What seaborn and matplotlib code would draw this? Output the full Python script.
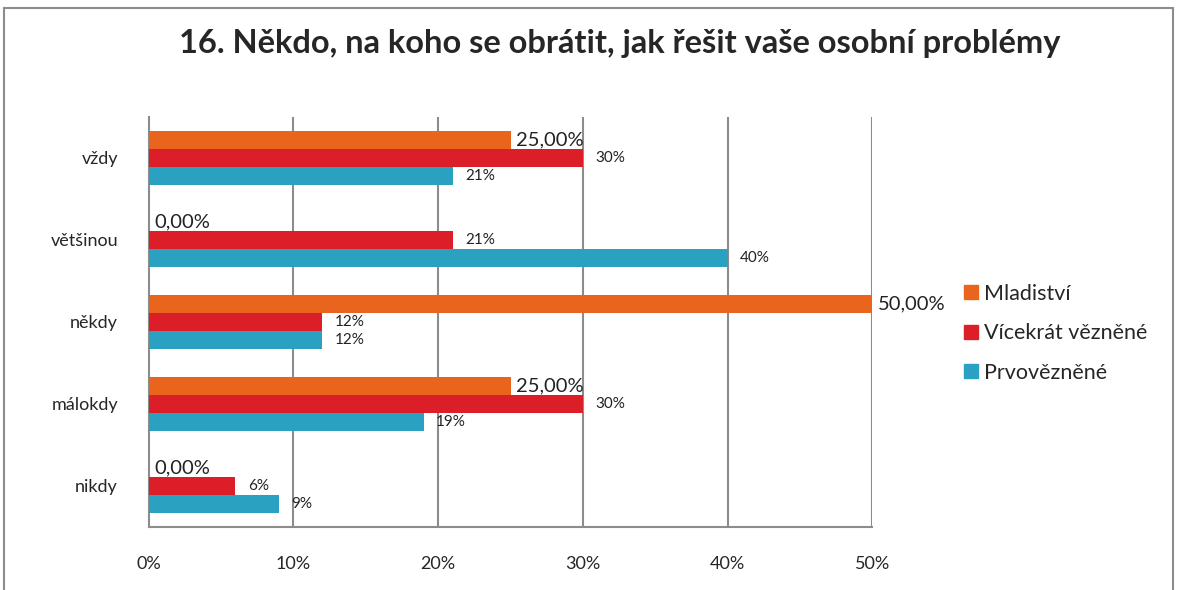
import matplotlib
matplotlib.use("Agg")
import matplotlib.pyplot as plt
import seaborn as sns
import pandas as pd
from matplotlib.patches import Rectangle
from matplotlib.lines import Line2D
from matplotlib.ticker import FixedLocator

categories = ["vždy", "většinou", "někdy", "málokdy", "nikdy"]
series = ["Mladiství", "Vícekrát vězněné", "Prvovězněné"]
mladistvi = [25, 0, 50, 25, 0]
vicekrat = [30, 21, 12, 30, 6]
prvo = [21, 40, 12, 19, 9]
colors = ["#E9651E", "#DC1E28", "#2AA1C0"]
xticks = [0, 10, 20, 30, 40, 50]

sns.set_style("white")
plt.rcParams["font.family"] = ["Lato", "DejaVu Sans"]

values = [mladistvi, vicekrat, prvo]
rows = []
for s, vals in zip(series, values):
    for c, v in zip(categories, vals):
        rows.append({"kat": c, "serie": s, "hodnota": v})
df = pd.DataFrame(rows)

fig = plt.figure(figsize=(11.79, 5.90), dpi=100)
ax = fig.add_axes([0.126, 0.107, 0.614, 0.695])

sns.barplot(data=df, y="kat", x="hodnota", hue="serie", order=categories,
            hue_order=series, palette=colors, orient="h", width=0.66,
            linewidth=0, saturation=1, ax=ax, legend=False, zorder=3)

ax.set_xlim(0, 50)
ax.set_ylim(len(categories) - 0.5, -0.5)
ax.set_xticks(xticks)
ax.set_xticklabels([f"{t}%" for t in xticks], fontsize=13)
ax.set_xlabel("")
ax.set_ylabel("")
ax.tick_params(axis="y", labelsize=13, length=0, pad=22)
ax.tick_params(axis="x", length=5, color="#8c8c8c", direction="out", pad=16)
ax.yaxis.set_minor_locator(FixedLocator([i - 0.5 for i in range(len(categories) + 1)]))
ax.tick_params(axis="y", which="minor", length=5, color="#8c8c8c", direction="out")

for s in ["top", "right"]:
    ax.spines[s].set_visible(False)
for s in ["left", "bottom"]:
    ax.spines[s].set_color("#8c8c8c")
    ax.spines[s].set_linewidth(1.5)

ax.grid(False)
for t in xticks[1:]:
    ax.axvline(t, color="#8c8c8c", lw=1.5, zorder=1)

# data labels
for i, cont in enumerate(ax.containers):
    vals = values[i]
    if i == 0:
        labs = [f"{v:.2f}%".replace(".", ",") for v in vals]
        ax.bar_label(cont, labels=labs, padding=4, fontsize=14.5, color="#222222")
    else:
        labs = [f"{v}%" for v in vals]
        ax.bar_label(cont, labels=labs, padding=9, fontsize=11, color="#222222")

# legend
handles = [Line2D([0], [0], marker="s", color="none", markerfacecolor=c,
                  markeredgecolor=c, markersize=10) for c in colors]
fig.legend(handles, series, loc="center left", bbox_to_anchor=(0.8, 0.435),
           frameon=False, fontsize=15.5, handletextpad=0.2, labelspacing=0.9,
           handlelength=0.8)

fig.suptitle("16. Někdo, na koho se obrátit, jak řešit vaše osobní problémy",
             x=0.526, y=0.95, fontsize=23.5, fontweight="bold")

fig.patches.append(Rectangle((0.003, -0.05), 0.992, 1.037, transform=fig.transFigure,
                             fill=False, edgecolor="#8c8c8c", lw=1.5))

fig.savefig("out.png", dpi=100)
